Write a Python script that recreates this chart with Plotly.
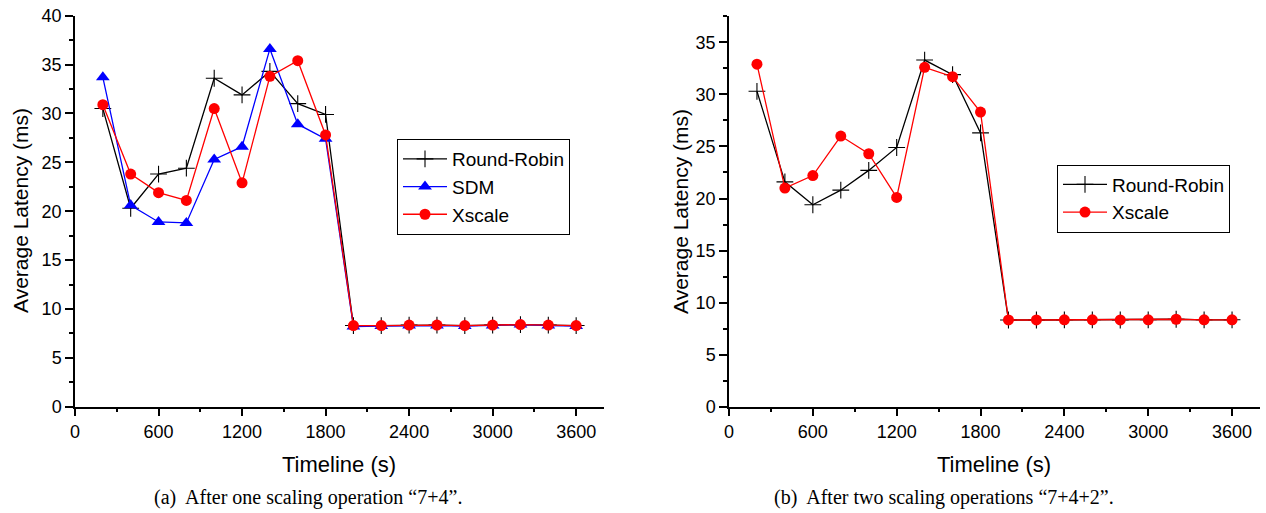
import plotly.graph_objects as go

timeline = [200, 400, 600, 800, 1000, 1200, 1400, 1600, 1800,
            2000, 2200, 2400, 2600, 2800, 3000, 3200, 3400, 3600]

# (a) After one scaling operation "7+4"
rr_a = [30.5, 20.3, 23.8, 24.4, 33.6, 31.9, 34.3, 31.0, 29.9,
        8.3, 8.3, 8.35, 8.35, 8.3, 8.35, 8.4, 8.35, 8.3]
sdm_a = [33.7, 20.6, 18.9, 18.8, 25.3, 26.6, 36.6, 28.9, 27.4,
         8.2, 8.25, 8.3, 8.3, 8.25, 8.3, 8.4, 8.3, 8.25]
xs_a = [30.9, 23.8, 21.9, 21.1, 30.5, 22.9, 33.8, 35.4, 27.8,
        8.3, 8.3, 8.35, 8.35, 8.3, 8.35, 8.4, 8.35, 8.3]

# (b) After two scaling operations "7+4+2"
rr_b = [30.3, 21.6, 19.4, 20.8, 22.7, 24.9, 33.3, 31.9, 26.3,
        8.33, 8.33, 8.35, 8.35, 8.33, 8.35, 8.4, 8.35, 8.35]
xs_b = [32.9, 21.0, 22.2, 26.0, 24.3, 20.1, 32.6, 31.7, 28.3,
        8.33, 8.33, 8.35, 8.35, 8.33, 8.35, 8.4, 8.35, 8.35]

x_tickvals = [0, 600, 1200, 1800, 2400, 3000, 3600]
x_ticktext = ["0", "600", "1200", "1800", "2400", "3000", "3600"]

W, H = 1266, 513
SANS = "Liberation Sans, Arial, sans-serif"
SERIF = "Liberation Serif, Times New Roman, serif"


def px_x(p):
    return p / W


def px_y(p):
    return 1 - p / H


fig = go.Figure()

LW = 1.3
CROSS = dict(symbol="cross-thin", size=12, line=dict(color="#000000", width=1.1))
fig.add_trace(go.Scatter(x=timeline, y=rr_a, name="Round-Robin", mode="lines+markers",
                         line=dict(color="#000000", width=LW), marker=CROSS,
                         xaxis="x", yaxis="y", legend="legend"))
fig.add_trace(go.Scatter(x=timeline, y=sdm_a, name="SDM", mode="lines+markers",
                         line=dict(color="#0000FF", width=LW),
                         marker=dict(symbol="triangle-up", size=12, color="#0000FF"),
                         xaxis="x", yaxis="y", legend="legend"))
fig.add_trace(go.Scatter(x=timeline, y=xs_a, name="Xscale", mode="lines+markers",
                         line=dict(color="#FF0000", width=LW),
                         marker=dict(symbol="circle", size=11, color="#FF0000"),
                         xaxis="x", yaxis="y", legend="legend"))

fig.add_trace(go.Scatter(x=timeline, y=rr_b, name="Round-Robin", mode="lines+markers",
                         line=dict(color="#000000", width=LW), marker=CROSS,
                         xaxis="x2", yaxis="y2", legend="legend2"))
fig.add_trace(go.Scatter(x=timeline, y=xs_b, name="Xscale", mode="lines+markers",
                         line=dict(color="#FF0000", width=LW),
                         marker=dict(symbol="circle", size=11, color="#FF0000"),
                         xaxis="x2", yaxis="y2", legend="legend2"))

common_axis = dict(showline=True, linecolor="#000000", linewidth=1.5, showgrid=False,
                   zeroline=False, ticks="outside", ticklen=8, tickwidth=1.5, automargin=False,
                   tickcolor="#000000", tickfont=dict(family=SANS, size=18, color="#000000"))

xaxis_common = dict(common_axis, range=[0, 3800], tickvals=x_tickvals, ticktext=x_ticktext,
                    minor=dict(ticks="outside", ticklen=4, tickwidth=1.5, tickcolor="#000000",
                               tick0=0, dtick=300, showgrid=False))

y_dom = [px_y(406.7), px_y(15.7)]

legend_common = dict(xanchor="left", yanchor="middle", bgcolor="white",
                     bordercolor="#000000", borderwidth=1, itemwidth=44,
                     font=dict(family=SANS, size=19, color="#000000"), tracegroupgap=0)

fig.update_layout(
    width=W, height=H,
    margin=dict(l=0, r=0, t=0, b=0, autoexpand=False),
    paper_bgcolor="white", plot_bgcolor="white",
    showlegend=True,
    xaxis=dict(xaxis_common, domain=[px_x(75), px_x(604)], anchor="y"),
    yaxis=dict(common_axis, domain=y_dom, range=[0, 40], dtick=5, tick0=0, anchor="x",
               minor=dict(ticks="outside", ticklen=4, tickwidth=1.5, tickcolor="#000000",
                          tick0=0, dtick=2.5, showgrid=False)),
    xaxis2=dict(xaxis_common, domain=[px_x(729), px_x(1260)], anchor="y2"),
    yaxis2=dict(common_axis, domain=y_dom, range=[0, 37.56], dtick=5, tick0=0, anchor="x2",
                minor=dict(ticks="outside", ticklen=4, tickwidth=1.5, tickcolor="#000000",
                           tick0=0, dtick=2.5, showgrid=False)),
    legend=dict(legend_common, x=px_x(397), y=px_y(187)),
    legend2=dict(legend_common, x=px_x(1057), y=px_y(198.5)),
)

annots = [
    dict(text="Average Latency (ms)", x=px_x(21), y=px_y(211), textangle=-90,
         font=dict(family=SANS, size=21, color="#000000")),
    dict(text="Average Latency (ms)", x=px_x(681), y=px_y(211), textangle=-90,
         font=dict(family=SANS, size=21, color="#000000")),
    dict(text="Timeline (s)", x=px_x(339), y=px_y(464),
         font=dict(family=SANS, size=22, color="#000000")),
    dict(text="Timeline (s)", x=px_x(994), y=px_y(464),
         font=dict(family=SANS, size=22, color="#000000")),
    dict(text="(a)  After one scaling operation \u201c7+4\u201d.", x=px_x(308), y=px_y(497),
         font=dict(family=SERIF, size=20, color="#000000")),
    dict(text="(b)  After two scaling operations \u201c7+4+2\u201d.", x=px_x(944), y=px_y(497),
         font=dict(family=SERIF, size=20, color="#000000")),
]
for a in annots:
    a.update(xref="paper", yref="paper", xanchor="center", yanchor="middle", showarrow=False)
fig.update_layout(annotations=annots)

fig.write_html("out.html", config={"displayModeBar": False},
               post_script="document.body.style.margin='0';document.body.style.padding='0';")
